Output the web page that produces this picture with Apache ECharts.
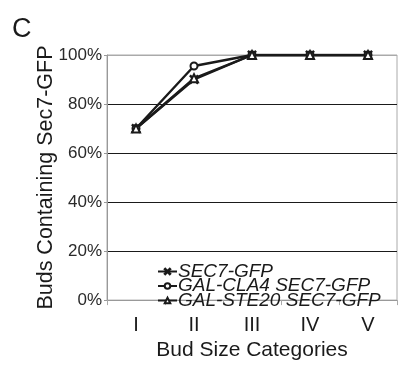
<!DOCTYPE html>
<html>
<head>
<meta charset="utf-8">
<script src="https://cdn.jsdelivr.net/npm/echarts@6/dist/echarts.min.js"></script>
<style>
  html, body { margin: 0; padding: 0; background: #fff; }
  #chart { width: 400px; height: 366px; }
</style>
</head>
<body>
<div id="chart"></div>
<script>
// Bud size categories along the x axis
const categories = ['I', 'II', 'III', 'IV', 'V'];

// Percent of buds containing Sec7-GFP, per strain
const sec7Gfp = [70, 90, 100, 100, 100];
const galCla4Sec7Gfp = [70, 95.5, 100, 100, 100];
const galSte20Sec7Gfp = [70, 90.5, 100, 100, 100];

const seriesNames = ['SEC7-GFP', 'GAL-CLA4 SEC7-GFP', 'GAL-STE20 SEC7-GFP'];

// y-axis ticks
const yTicks = [0, 20, 40, 60, 80, 100];

const crossSymbol = 'path://M0,1L1,0L5,4L9,0L10,1L6,5L10,9L9,10L5,6L1,10L0,9L4,5Z';
const ink = '#1a1a1a';
const font = 'Liberation Sans, Arial, sans-serif';

const chart = echarts.init(document.getElementById('chart'));

function lineSeries(name, data, symbol, size) {
  return {
    name: name,
    type: 'line',
    data: data,
    symbol: symbol,
    symbolSize: size,
    showSymbol: true,
    lineStyle: { color: ink, width: 2.4 },
    itemStyle: { color: ink, borderColor: ink, borderWidth: 1.3 },
    emphasis: { disabled: true },
    z: 3
  };
}

chart.setOption({
  animation: false,
  backgroundColor: '#fff',
  title: {
    text: 'C',
    left: 7,
    top: 11,
    textStyle: { fontFamily: font, fontSize: 27, fontWeight: 'normal', color: ink }
  },
  grid: {
    left: 107,
    right: 3,
    top: 55,
    bottom: 57,
    show: true,
    borderColor: '#aaa',
    borderWidth: 1,
    backgroundColor: 'transparent'
  },
  legend: {
    orient: 'vertical',
    left: 157,
    top: 262,
    itemGap: -4.5,
    itemWidth: 19,
    itemHeight: 7,
    padding: 0,
    data: seriesNames,
    textStyle: {
      fontFamily: font,
      fontSize: 19,
      fontStyle: 'italic',
      color: ink,
      lineHeight: 14,
      padding: [0, 0, 0, -4]
    }
  },
  xAxis: {
    type: 'category',
    data: categories,
    boundaryGap: true,
    name: 'Bud Size Categories',
    nameLocation: 'middle',
    nameGap: 39,
    nameTextStyle: { fontFamily: font, fontSize: 21, color: ink },
    axisLine: { lineStyle: { color: '#999', width: 1 } },
    axisTick: { show: true, length: 5, lineStyle: { color: '#aaa' } },
    axisLabel: { fontFamily: font, fontSize: 20, color: ink, margin: 15 },
    splitLine: { show: false }
  },
  yAxis: {
    type: 'value',
    min: yTicks[0],
    max: yTicks[yTicks.length - 1],
    interval: 20,
    name: 'Buds Containing Sec7-GFP',
    nameLocation: 'middle',
    nameGap: 50,
    nameMoveOverlap: false,
    nameTextStyle: { fontFamily: font, fontSize: 21.5, color: ink },
    axisLine: { show: true, lineStyle: { color: '#999', width: 1 } },
    axisTick: { show: true, length: 3, lineStyle: { color: '#999' } },
    axisLabel: { fontFamily: font, fontSize: 17, color: '#2a2a2a', margin: 5, formatter: '{value}%' },
    splitLine: {
      show: true,
      lineStyle: { color: ['#999', ink, ink, ink, ink, '#aaa'], width: 1.2 }
    }
  },
  series: [
    lineSeries(seriesNames[0], sec7Gfp, crossSymbol, 8),
    lineSeries(seriesNames[1], galCla4Sec7Gfp, 'emptyCircle', 7),
    lineSeries(seriesNames[2], galSte20Sec7Gfp, 'emptyTriangle', 8)
  ]
});
</script>
</body>
</html>
